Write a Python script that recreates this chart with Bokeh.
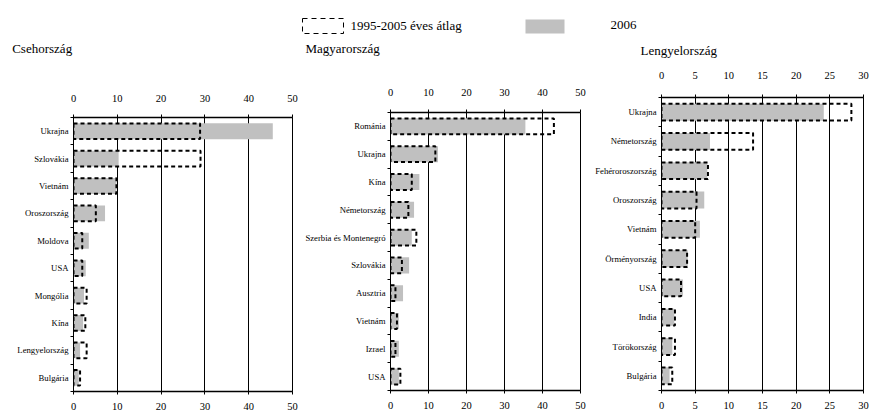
from bokeh.plotting import figure
from bokeh.layouts import column, row
from bokeh.models import Range1d, LinearAxis, FixedTicker, ColumnDataSource, CustomJSTickFormatter
from bokeh.core.properties import value
from bokeh.embed import file_html
from bokeh.resources import INLINE

FONT = "Liberation Serif"
GRAY = "#C0C0C0"

# ---- data ----
cz_countries = ["Ukrajna", "Szlovákia", "Vietnám", "Oroszország", "Moldova", "USA",
                "Mongólia", "Kína", "Lengyelország", "Bulgária"]
cz_2006 = [45.5, 10.3, 9.8, 7.2, 3.5, 2.8, 2.4, 2.2, 1.5, 1.2]
cz_avg = [28.9, 29.0, 9.8, 5.1, 2.0, 2.0, 3.0, 2.7, 3.0, 1.5]

hu_countries = ["Románia", "Ukrajna", "Kína", "Németország", "Szerbia és Montenegró",
                "Szlovákia", "Ausztria", "Vietnám", "Izrael", "USA"]
hu_2006 = [35.5, 12.5, 7.6, 6.2, 5.6, 4.9, 3.3, 2.2, 2.2, 2.2]
hu_avg = [43.0, 11.8, 5.6, 4.7, 6.8, 3.0, 1.3, 1.7, 1.3, 2.6]

pl_countries = ["Ukrajna", "Németország", "Fehéroroszország", "Oroszország", "Vietnám",
                "Örményország", "USA", "India", "Törökország", "Bulgária"]
pl_2006 = [24.1, 7.2, 6.8, 6.35, 5.7, 3.9, 3.2, 1.9, 1.6, 1.2]
pl_avg = [28.2, 13.6, 6.9, 5.2, 5.0, 3.8, 2.9, 2.0, 2.0, 1.6]

ticks_50 = [0, 10, 20, 30, 40, 50]
ticks_30 = [0, 5, 10, 15, 20, 25, 30]

titles = ["Csehország", "Magyarország", "Lengyelország"]
legend_labels = ["1995-2005 éves átlag", "2006"]


def style_xaxis(ax, ticks, standoff):
    ax.ticker = FixedTicker(ticks=ticks)
    ax.axis_line_color = "black"
    ax.axis_line_width = 1.5
    ax.major_tick_line_color = "black"
    ax.major_tick_out = 3
    ax.major_tick_in = 0
    ax.minor_tick_line_color = None
    ax.major_label_text_font = FONT
    ax.major_label_text_font_size = "10.5px"
    ax.major_label_text_color = "black"
    ax.major_label_standoff = standoff


def panel(countries, v2006, vavg, xmax, ticks, fw, fh, bl, br, bt, bb, top_standoff):
    n = len(countries)
    pos = [i + 0.5 for i in range(n)]
    src = ColumnDataSource(dict(y=pos, v2006=v2006, vavg=vavg))
    p = figure(frame_width=fw, frame_height=fh, x_range=Range1d(0, xmax), y_range=Range1d(n, 0),
               x_axis_location="above", output_backend="svg", toolbar_location=None,
               min_border_left=bl, min_border_right=br, min_border_top=bt,
               min_border_bottom=bb)
    p.background_fill_color = "white"
    p.border_fill_color = "white"
    p.outline_line_color = "black"
    p.outline_line_width = 1

    p.hbar(y="y", left=0, right="v2006", height=0.58, fill_color=GRAY,
           line_color=None, source=src)
    p.hbar(y="y", left=0, right="vavg", height=0.57, fill_color=None,
           line_color="black", line_width=2, line_dash="4 3", source=src)

    bottom = LinearAxis()
    p.add_layout(bottom, "below")
    style_xaxis(p.xaxis[0], ticks, top_standoff)
    style_xaxis(bottom, ticks, 8)

    p.xgrid.ticker = FixedTicker(ticks=ticks)
    p.xgrid.grid_line_color = "black"
    p.xgrid.grid_line_width = 1
    p.ygrid.grid_line_color = None

    ya = p.yaxis[0]
    ya.ticker = FixedTicker(ticks=pos, minor_ticks=list(range(n + 1)))
    ya.formatter = CustomJSTickFormatter(args=dict(names=countries),
                                         code="return names[Math.floor(tick)]")
    ya.axis_line_color = "black"
    ya.major_tick_out = 0
    ya.major_tick_in = 0
    ya.minor_tick_out = 3
    ya.minor_tick_in = 0
    ya.minor_tick_line_color = "black"
    ya.major_label_text_font = FONT
    ya.major_label_text_font_size = "8.7px"
    ya.major_label_text_color = "black"
    ya.major_label_standoff = 2
    return p


f1 = panel(cz_countries, cz_2006, cz_avg, 50, ticks_50, 219, 274, 73, 8, 55, 23, 13)
f2 = panel(hu_countries, hu_2006, hu_avg, 50, ticks_50, 190, 278, 90, 10, 50, 24, 14)
f3 = panel(pl_countries, pl_2006, pl_avg, 30, ticks_30, 202, 293, 71, 6, 35, 24, 16)

# ---- header: legend and panel titles (pixel coordinates, y downward) ----
h = figure(width=869, height=62, x_range=Range1d(0, 869), y_range=Range1d(62, 0),
           min_border=0, toolbar_location=None, output_backend="svg",
           x_axis_type=None, y_axis_type=None)
h.outline_line_color = None
h.grid.visible = False

h.quad(left=[302], right=[343], top=[18], bottom=[33], fill_color=None,
       line_color="black", line_width=1, line_dash="5 4")
h.quad(left=[525], right=[564], top=[19], bottom=[33], fill_color=GRAY, line_color=None)
h.text(x=[350, 610], y=[24.5, 24.5], text=legend_labels, text_font=value(FONT),
       text_font_size=value("13px"), text_baseline="alphabetic", text_align="left",
       text_color="black")
h.text(x=[11.7, 305, 640], y=[48, 48, 50], text=titles, text_font=value(FONT),
       text_font_size=value("13px"), text_baseline="alphabetic", text_align="left",
       text_color="black")

layout = column(h, row(column(f1), column(f2), column(f3)))
open("out.html", "w").write(file_html(layout, INLINE))
